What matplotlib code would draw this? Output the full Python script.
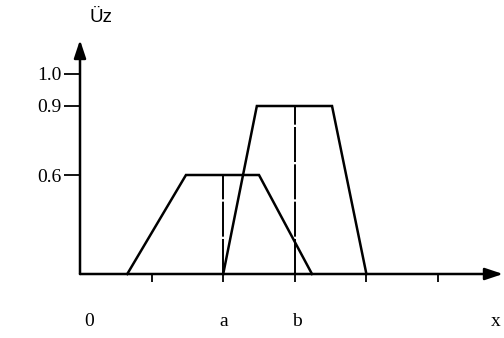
import numpy as np
import matplotlib
matplotlib.use('Agg')
import matplotlib.pyplot as plt

# membership functions (x in tick units, y = degree)
small_x = [0.66, 1.48, 2.5, 3.24]
small_y = [0.0, 0.6, 0.6, 0.0]
big_x = [2.0, 2.47, 3.52, 4.0]
big_y = [0.0, 0.9, 0.9, 0.0]

# dashed markers at a and b
mark_x = [2.0, 3.0]
mark_top = [0.6, 0.9]

yticks = [0.6, 0.9, 1.0]
ytick_labels = ['0.6', '0.9', '1.0']
xlabels = ['0', 'a', 'b', 'x']
xlabel_pos = [0.13, 2.0, 3.03, 5.8]

# schematic vertical scale: the degree axis is not drawn linearly
yk = [-1.0, 0.0, 0.6, 0.9, 1.0, 3.0]
pk = [-165.0, 0.0, 99.0, 168.0, 200.0, 600.0]

def fwd(y):
    return np.interp(y, yk, pk)

def inv(p):
    return np.interp(p, pk, yk)

unit = 71.6
serif = 'Liberation Serif'
fs = 14

fig = plt.figure(figsize=(5.04, 3.38), dpi=100)
ax = fig.add_axes([0, 0, 1, 1])
ax.set_yscale('function', functions=(fwd, inv))
ax.set_xlim(-80 / unit, (504 - 80) / unit)
ax.set_ylim(inv(-64), inv(274))

for s in ax.spines.values():
    s.set_visible(False)
ax.spines['left'].set_position(('data', 0))
ax.spines['bottom'].set_position(('data', 0))

ax.set_xticks([1, 2, 3, 4, 5])
ax.set_xticklabels([])
ax.tick_params(axis='x', direction='out', length=5.5, width=1.3, color='black')
ax.set_yticks(yticks)
ax.set_yticklabels(ytick_labels, fontfamily=serif, fontsize=fs)
ax.tick_params(axis='y', direction='out', length=11.5, width=1.3, pad=1.5, color='black')
ax.yaxis.set_minor_locator(matplotlib.ticker.NullLocator())

# axes with arrow heads
arrow = dict(arrowstyle='-|>,head_length=0.9,head_width=0.3', color='black',
             lw=1.8, shrinkA=0, shrinkB=0, mutation_scale=12)
ax.annotate('', xy=((503 - 80) / unit, 0), xytext=(0, 0), arrowprops=arrow)
ax.annotate('', xy=(0, inv(234)), xytext=(0, 0), arrowprops=arrow)

ax.plot(small_x, small_y, color='black', lw=1.8, solid_joinstyle='miter')
ax.plot(big_x, big_y, color='black', lw=1.8, solid_joinstyle='miter')
for mx, mt in zip(mark_x, mark_top):
    ax.plot([mx, mx], [0, mt], color='black', lw=1.4, linestyle=(0, (18, 1.2)))

for lab, xp in zip(xlabels, xlabel_pos):
    ax.text(xp, inv(-47), lab, fontfamily=serif, fontsize=fs,
            ha='center', va='center')

ax.text(21 / unit, inv(256), 'Üz', fontfamily='Liberation Sans', fontsize=13.5,
        ha='center', va='center')

fig.savefig('out.png', dpi=100)
